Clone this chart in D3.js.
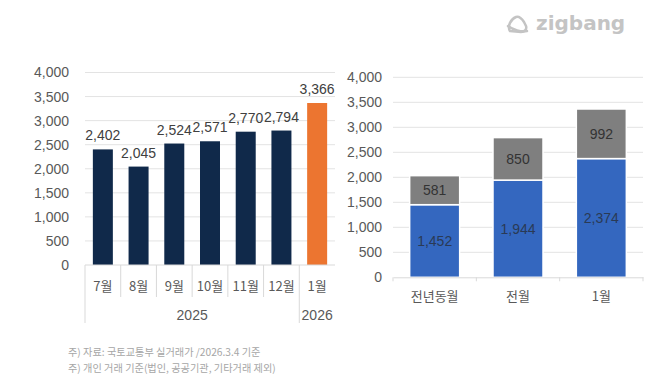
<!DOCTYPE html>
<html>
<head>
<meta charset="utf-8">
<script src="https://cdn.jsdelivr.net/npm/d3@7"></script>
<style>
  body { margin: 0; background: #fff; }
  text { font-family: "Liberation Sans", Arial, sans-serif; }
  .kr { font-family: "Noto Sans CJK KR", sans-serif; }
</style>
</head>
<body>
<div id="chart"></div>
<script>
// left chart: monthly counts
var months = ["7월", "8월", "9월", "10월", "11월", "12월", "1월"];
var monthYears = ["2025", "2025", "2025", "2025", "2025", "2025", "2026"];
var monthValues = [2402, 2045, 2524, 2571, 2770, 2794, 3366];

// right chart: stacked comparison
var compCats = ["전년동월", "전월", "1월"];
var compBlue = [1452, 1944, 2374];
var compGray = [581, 850, 992];

var yTicks = [0, 500, 1000, 1500, 2000, 2500, 3000, 3500, 4000];

var notes = [
  "주) 자료: 국토교통부 실거래가 /2026.3.4 기준",
  "주) 개인 거래 기준(법인, 공공기관, 기타거래 제외)"
];

var navy = "#10294a", orange = "#ec7530", blue = "#3467bf", gray = "#7f7f7f";
var gridColor = "#e3e3e3", tickText = "#595959";
var fmt = d3.format(",");

var svg = d3.select("#chart").append("svg")
  .attr("width", 670)
  .attr("height", 391);

// ---------- left chart ----------
var x1 = d3.scaleBand().domain(months).range([85, 335]).paddingInner(0.44).paddingOuter(0.22);
var y1 = d3.scaleLinear().domain([0, 4000]).range([265, 72.5]);

var left = svg.append("g");

left.selectAll(".grid")
  .data(yTicks.slice(1))
  .enter().append("line")
  .attr("x1", 85).attr("x2", 335)
  .attr("y1", function(d){ return y1(d); })
  .attr("y2", function(d){ return y1(d); })
  .attr("stroke", gridColor);

left.append("g")
  .attr("transform", "translate(85,0)")
  .call(d3.axisLeft(y1).tickValues(yTicks).tickFormat(fmt).tickSize(0).tickPadding(16))
  .call(function(g){ g.select(".domain").remove(); })
  .selectAll("text")
  .attr("fill", tickText)
  .style("font-size", "14px");

left.selectAll(".bar")
  .data(monthValues)
  .enter().append("rect")
  .attr("x", function(d, i){ return x1(months[i]); })
  .attr("y", function(d){ return y1(d); })
  .attr("width", x1.bandwidth())
  .attr("height", function(d){ return y1(0) - y1(d); })
  .attr("fill", function(d, i){ return i == months.length - 1 ? orange : navy; });

left.selectAll(".val")
  .data(monthValues)
  .enter().append("text")
  .attr("x", function(d, i){ return x1(months[i]) + x1.bandwidth() / 2; })
  .attr("y", function(d){ return y1(d) - 9; })
  .attr("text-anchor", "middle")
  .attr("fill", "#404040")
  .style("font-size", "14px")
  .text(function(d){ return fmt(d); });

// category axis with two levels
left.append("line")
  .attr("x1", 85).attr("x2", 335)
  .attr("y1", y1(0)).attr("y2", y1(0))
  .attr("stroke", "#d9d9d9");

var step1 = x1.step();
months.forEach(function(m, i){
  var xl = 85 + i * step1;
  var longLine = (i == 0 || monthYears[i] != monthYears[i - 1]);
  left.append("line")
    .attr("x1", xl).attr("x2", xl)
    .attr("y1", y1(0)).attr("y2", longLine ? 323 : 297)
    .attr("stroke", "#d9d9d9");
  left.append("text")
    .attr("class", "kr")
    .attr("x", xl + step1 / 2)
    .attr("y", 291)
    .attr("text-anchor", "middle")
    .attr("fill", tickText)
    .style("font-size", "13px")
    .text(m);
});

var years = Array.from(new Set(monthYears));
years.forEach(function(yr){
  var idx = monthYears.map(function(v, i){ return v == yr ? i : -1; }).filter(function(i){ return i >= 0; });
  var xs = 85 + idx[0] * step1, xe = 85 + (idx[idx.length - 1] + 1) * step1;
  left.append("text")
    .attr("x", (xs + xe) / 2)
    .attr("y", 320)
    .attr("text-anchor", "middle")
    .attr("fill", tickText)
    .style("font-size", "14px")
    .text(yr);
});

// ---------- right chart ----------
var x2 = d3.scaleBand().domain(compCats).range([393, 643]).paddingInner(0.4).paddingOuter(0.2);
var y2 = d3.scaleLinear().domain([0, 4000]).range([277.3, 77.3]);

var right = svg.append("g");

right.selectAll(".grid")
  .data(yTicks.slice(1))
  .enter().append("line")
  .attr("x1", 393).attr("x2", 643)
  .attr("y1", function(d){ return y2(d); })
  .attr("y2", function(d){ return y2(d); })
  .attr("stroke", gridColor);

right.append("g")
  .attr("transform", "translate(393,0)")
  .call(d3.axisLeft(y2).tickValues(yTicks).tickFormat(fmt).tickSize(0).tickPadding(11))
  .call(function(g){ g.select(".domain").remove(); })
  .selectAll("text")
  .attr("fill", tickText)
  .style("font-size", "14px");

var stackData = compCats.map(function(c, i){ return { cat: c, blue: compBlue[i], gray: compGray[i] }; });
var series = d3.stack().keys(["blue", "gray"])(stackData);
var stackColor = { blue: blue, gray: gray };

series.forEach(function(s){
  right.selectAll(".seg-" + s.key)
    .data(s)
    .enter().append("rect")
    .attr("x", function(d){ return x2(d.data.cat); })
    .attr("y", function(d){ return y2(d[1]); })
    .attr("width", x2.bandwidth())
    .attr("height", function(d){ return y2(d[0]) - y2(d[1]); })
    .attr("fill", stackColor[s.key])
    .attr("stroke", "#fff")
    .attr("stroke-width", 1.5);

  right.selectAll(".lab-" + s.key)
    .data(s)
    .enter().append("text")
    .attr("x", function(d){ return x2(d.data.cat) + x2.bandwidth() / 2; })
    .attr("y", function(d){ return (y2(d[0]) + y2(d[1])) / 2 + 5; })
    .attr("text-anchor", "middle")
    .attr("fill", s.key == "blue" ? "#2a3a55" : "#333")
    .style("font-size", "14px")
    .text(function(d){ return fmt(d[1] - d[0]); });
});

right.append("g")
  .attr("transform", "translate(0," + y2(0) + ")")
  .call(d3.axisBottom(x2).tickSize(0).tickPadding(14))
  .call(function(g){
    g.select(".domain").attr("stroke", "#d9d9d9");
    g.selectAll("text").attr("class", "kr").attr("fill", tickText).style("font-size", "13px");
  });

right.selectAll(".ctick")
  .data(d3.range(compCats.length + 1))
  .enter().append("line")
  .attr("x1", function(i){ return 393 + i * x2.step(); })
  .attr("x2", function(i){ return 393 + i * x2.step(); })
  .attr("y1", y2(0)).attr("y2", y2(0) + 4)
  .attr("stroke", "#d9d9d9");

// ---------- notes ----------
svg.selectAll(".note")
  .data(notes)
  .enter().append("text")
  .attr("class", "kr")
  .attr("x", 68)
  .attr("y", function(d, i){ return 356 + i * 15.5; })
  .attr("fill", "#a6a6a6")
  .style("font-size", "10.2px")
  .text(function(d){ return d; });

// ---------- logo ----------
var logo = svg.append("g").attr("transform", "translate(507,16)");
logo.append("path")
  .attr("d", "M3,15 C0,10 4,3 9,1 C12,0 15,3 17,6 L19,10 C20,13 18,16 14,16 Z")
  .attr("fill", "none")
  .attr("stroke", "#c4c4c4")
  .attr("stroke-width", 2.5)
  .attr("stroke-linejoin", "round");
logo.append("path")
  .attr("d", "M1,10 C6,14 14,16 20,15")
  .attr("fill", "none")
  .attr("stroke", "#c4c4c4")
  .attr("stroke-width", 2.5)
  .attr("stroke-linecap", "round");
svg.append("text")
  .attr("x", 536)
  .attr("y", 30)
  .attr("fill", "#c4c4c4")
  .style("font-family", "DejaVu Sans, sans-serif")
  .style("font-weight", "bold")
  .style("font-size", "20px")
  .text("zigbang");
</script>
</body>
</html>
